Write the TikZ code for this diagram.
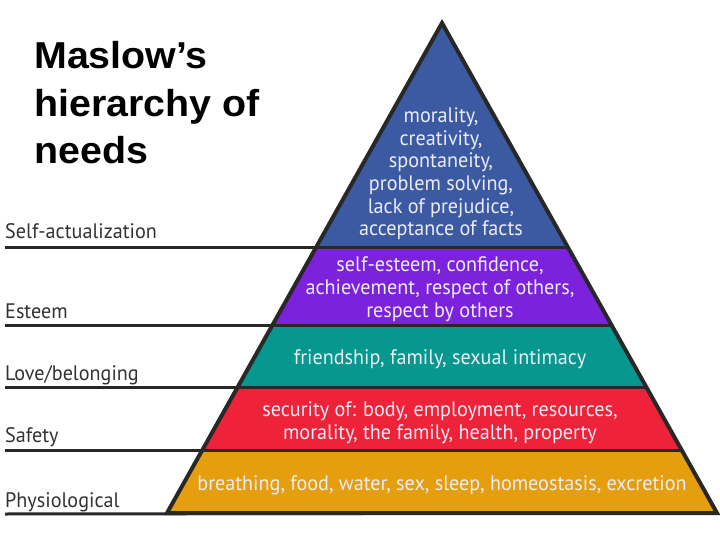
\documentclass[tikz,border=0pt]{standalone}
\usepackage{fontspec}
\setmainfont{Liberation Sans}
\newfontfamily\titlefont[FakeStretch=1.05]{Liberation Sans}
\newfontfamily\din[FakeStretch=0.96]{PT Sans}
\definecolor{cblue}{RGB}{60,90,162}
\definecolor{cpurple}{RGB}{124,34,220}
\definecolor{cteal}{RGB}{6,152,142}
\definecolor{cred}{RGB}{238,34,56}
\definecolor{corange}{RGB}{228,158,14}
\definecolor{ctext}{RGB}{236,236,246}
\definecolor{cline}{RGB}{40,40,40}
\definecolor{clabel}{RGB}{50,50,50}
\tikzset{
  bandtext/.style={text=ctext, font=\din\fontsize{21}{22.7}\selectfont, align=center, anchor=base, inner sep=0pt},
  sidelabel/.style={text=clabel, font=\din\fontsize{21}{22}\selectfont, anchor=base west, inner sep=0pt},
  sep/.style={draw=cline, line width=3pt},
  title/.style={font=\titlefont\bfseries\fontsize{37.5}{47.5}\selectfont, anchor=base west, inner sep=0pt, align=left}
}
\begin{document}
\begin{tikzpicture}[x=1pt,y=-1pt]
\useasboundingbox (0,0) rectangle (720,540);
% coordinates
\coordinate (apex) at (442,23);
\coordinate (bl) at (167,513);
\coordinate (br) at (717,513);
% bands
\begin{scope}
  \clip (apex) -- (bl) -- (br) -- cycle;
  \fill[cblue] (150,0) rectangle (720,247);
  \fill[cpurple] (150,247) rectangle (720,325);
  \fill[cteal] (150,325) rectangle (720,387);
  \fill[cred] (150,387) rectangle (720,450);
  \fill[corange] (150,450) rectangle (720,513);
\end{scope}
% separators and side lines
\coordinate (s1l) at (5,247);   \coordinate (s1r) at (567.7,247);
\coordinate (s2l) at (5,325);   \coordinate (s2r) at (611.5,325);
\coordinate (s3l) at (5,387);   \coordinate (s3r) at (646.3,387);
\coordinate (s4l) at (5,450);   \coordinate (s4r) at (681.6,450);
\coordinate (s5l) at (5,514);
\draw[sep] (s1l) -- (s1r);
\draw[sep] (s2l) -- (s2r);
\draw[sep] (s3l) -- (s3r);
\draw[sep] (s4l) -- (s4r);
\draw[sep] (s5l) -- (br);
% outline
\draw[cline, line width=4pt, line join=miter] (apex) -- (bl) -- (br) -- cycle;
% band texts (anchor = baseline of last line)
\node[bandtext] (t1) at (441,236) {morality,\\creativity,\\spontaneity,\\problem solving,\\lack of prejudice,\\acceptance of facts};
\node[bandtext] (t2) at (440,317) {self-esteem, confidence,\\achievement, respect of others,\\respect by others};
\node[bandtext] (t3) at (440,364) {friendship, family, sexual intimacy};
\node[bandtext] (t4) at (440,439) {security of: body, employment, resources,\\morality, the family, health, property};
\node[bandtext] (t5) at (442,490) {breathing, food, water, sex, sleep, homeostasis, excretion};
% side labels
\node[sidelabel] (l1) at (5,238) {Self-actualization};
\node[sidelabel] (l2) at (5,318) {Esteem};
\node[sidelabel] (l3) at (5,380) {Love/belonging};
\node[sidelabel] (l4) at (5,442) {Safety};
\node[sidelabel] (l5) at (5,507) {Physiological};
% title
\node[title] (title) at (34,164) {Maslow’s\\hierarchy of\\needs};
\end{tikzpicture}
\end{document}
